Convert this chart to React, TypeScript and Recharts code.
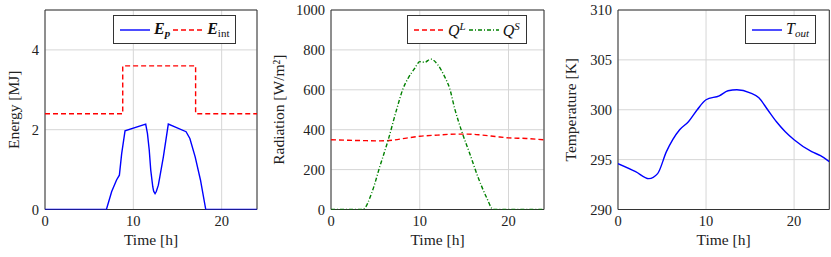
import React from 'react';
import { LineChart, Line, XAxis, YAxis, CartesianGrid, Legend, ReferenceArea } from 'recharts';

const FONT = '"Liberation Serif", "Times New Roman", serif';

// shared time axis
const hourTicks = [0, 10, 20];

// panel 1: energy [MJ]
const epHours = [0, 6.95, 7.55, 8.1, 8.42, 8.68, 9.06, 11.4, 11.6, 11.8, 11.97, 12.2, 12.3, 12.46, 12.6, 12.83, 13.0, 13.4, 13.96, 15.97, 16.4, 17.0, 17.6, 18.2, 24];
const epValues = [0, 0, 0.45, 0.74, 0.86, 1.4, 1.97, 2.14, 1.9, 1.49, 0.99, 0.57, 0.46, 0.4, 0.45, 0.61, 0.82, 1.32, 2.14, 1.95, 1.78, 1.32, 0.74, 0, 0];
const eintHours = [0, 8.8, 17.05, 24];
const eintValues = [2.4, 3.6, 2.4, 2.4];
const energyTicks = [0, 2, 4];

// panel 2: radiation [W/m2]
const qlHours = [0, 2, 4, 5.5, 7, 8.5, 10, 12, 14, 15.4, 17, 18.5, 20, 22, 24];
const qlValues = [350, 347, 345, 344, 348, 358, 367, 373, 378, 378, 373, 366, 359, 356, 349];
const qsHours = [0, 3.6, 4.57, 5.5, 6.44, 7.38, 8.13, 8.69, 9.44, 10.0, 10.56, 11.24, 12.06, 12.8, 13.37, 13.93, 14.68, 15.62, 16.55, 17.49, 18.3, 24];
const qsValues = [0, 0, 81, 215, 348, 499, 607, 658, 708, 741, 738, 754, 724, 666, 607, 507, 398, 282, 164, 64, 0, 0];
const radiationTicks = [0, 200, 400, 600, 800, 1000];

// panel 3: outside temperature [K]
const toutHours = [0, 2, 3.5, 4.5, 5.5, 7, 8, 9, 10, 11.5, 12.5, 13.5, 15, 16, 17, 18, 19, 20, 22, 23, 24];
const toutValues = [294.6, 293.8, 293.1, 293.6, 295.8, 298.0, 298.8, 300.0, 301.0, 301.4, 301.9, 302.0, 301.7, 301.2, 300.0, 298.8, 297.8, 297.0, 295.8, 295.4, 294.8];
const tempTicks = [290, 295, 300, 305, 310];

const toPoints = (hours: number[], values: number[]) => hours.map((h, i) => ({ h, v: values[i] }));

// tick labels as plain svg text so the serif font is applied for sure
const XTick = (props: any) => (
  <text x={props.x} y={props.y} dy="0.71em" textAnchor="middle" fontFamily={FONT} fontSize={14.5} fill="#222">
    {props.payload.value}
  </text>
);

const YTick = (props: any) => (
  <text x={props.x} y={props.y} dy="0.355em" textAnchor="end" fontFamily={FONT} fontSize={14.5} fill="#222">
    {props.payload.value}
  </text>
);

// axis titles drawn relative to the axis viewBox
const xTitle = (text: string) => (props: any) => {
  const vb = props.viewBox;
  return (
    <text x={vb.x + vb.width / 2} y={vb.y + 35.5} textAnchor="middle" fontFamily={FONT} fontSize={15.5} fill="#222">
      {text}
    </text>
  );
};

const yTitle = (text: string, dx: number) => (props: any) => {
  const vb = props.viewBox;
  const x = vb.x + vb.width - dx;
  const y = vb.y + vb.height / 2;
  return (
    <text x={x} y={y} transform={`rotate(-90 ${x} ${y})`} textAnchor="middle" dominantBaseline="central" fontFamily={FONT} fontSize={15.5} fill="#222">
      {text}
    </text>
  );
};

const Sample = ({ color, dash }: { color: string; dash?: string }) => (
  <svg width={30} height={6} style={{ display: 'block' }}>
    <line x1={0} y1={3} x2={30} y2={3} stroke={color} strokeWidth={1.4} strokeDasharray={dash} />
  </svg>
);

const legendBox = (items: { color: string; dash?: string; label: React.ReactNode }[]) => () => (
  <div
    style={{
      display: 'flex',
      alignItems: 'center',
      border: '1px solid #333',
      background: '#fff',
      height: 27,
      padding: '0 6px',
      fontFamily: FONT,
      fontSize: 16,
      color: '#111',
      whiteSpace: 'nowrap',
    }}
  >
    {items.map((it, i) => (
      <div key={i} style={{ display: 'flex', alignItems: 'center', marginLeft: i ? 3 : 0 }}>
        <Sample color={it.color} dash={it.dash} />
        <span style={{ marginLeft: 4 }}>{it.label}</span>
      </div>
    ))}
  </div>
);

const subStyle = { fontSize: 11, verticalAlign: '-3px' } as const;
const supStyle = { fontSize: 11, verticalAlign: '6px' } as const;

interface PanelProps {
  left: number;
  width: number;
  marginLeft: number;
  marginRight: number;
  yWidth: number;
  yDomain: [number, number];
  yTicks: number[];
  yLabel: string;
  yLabelDx: number;
  legendLeft: number;
  legend: () => React.ReactElement;
  children: React.ReactNode;
}

const Panel = ({ left, width, marginLeft, marginRight, yWidth, yDomain, yTicks, yLabel, yLabelDx, legendLeft, legend, children }: PanelProps) => (
  <div style={{ position: 'absolute', left, top: 0, fontFamily: FONT }}>
    <LineChart width={width} height={257} margin={{ top: 10, right: marginRight, bottom: 17.5, left: marginLeft }}>
      <CartesianGrid stroke="#d6d6d6" strokeWidth={1} />
      <XAxis
        dataKey="h"
        type="number"
        domain={[0, 24]}
        ticks={hourTicks}
        allowDataOverflow
        height={30}
        axisLine={false}
        tickLine={false}
        tickSize={0}
        tickMargin={6}
        tick={XTick}
        label={{ content: xTitle('Time [h]') }}
      />
      <YAxis
        type="number"
        domain={yDomain}
        ticks={yTicks}
        allowDataOverflow
        width={yWidth}
        axisLine={false}
        tickLine={false}
        tickSize={0}
        tickMargin={6}
        tick={YTick}
        label={{ content: yTitle(yLabel, yLabelDx) }}
      />
      <Legend
        layout="horizontal"
        verticalAlign="middle"
        align="center"
        content={legend}
        wrapperStyle={{ left: legendLeft, top: 15, width: 'auto', right: 'auto', bottom: 'auto', height: 'auto' }}
      />
      {children}
      {/* plot frame */}
      <ReferenceArea x1={0} x2={24} y1={yDomain[0]} y2={yDomain[1]} fill="none" fillOpacity={0} stroke="#333" strokeWidth={1} ifOverflow="visible" />
    </LineChart>
  </div>
);

export default function App() {
  return (
    <div style={{ position: 'absolute', left: 0, top: 0, width: 831, height: 257, background: '#fff', fontFamily: FONT }}>
      <Panel
        left={0}
        width={270}
        marginLeft={15}
        marginRight={13}
        yWidth={30}
        yDomain={[0, 5]}
        yTicks={energyTicks}
        yLabel="Energy [MJ]"
        yLabelDx={32}
        legendLeft={113}
        legend={legendBox([
          {
            color: '#0000ff',
            label: (
              <span>
                <b><i>E</i></b>
                <b><i style={subStyle}>p</i></b>
              </span>
            ),
          },
          {
            color: '#ff0000',
            dash: '5 3',
            label: (
              <span>
                <b><i>E</i></b>
                <span style={subStyle}>int</span>
              </span>
            ),
          },
        ])}
      >
        <Line data={toPoints(epHours, epValues)} dataKey="v" name="Ep" type="linear" stroke="#0000ff" strokeWidth={1.4} dot={false} isAnimationActive={false} />
        <Line data={toPoints(eintHours, eintValues)} dataKey="v" name="Eint" type="stepAfter" stroke="#ff0000" strokeWidth={1.4} strokeDasharray="5 3" dot={false} isAnimationActive={false} />
      </Panel>
      <Panel
        left={270}
        width={280}
        marginLeft={21}
        marginRight={6}
        yWidth={40}
        yDomain={[0, 1000]}
        yTicks={radiationTicks}
        yLabel="Radiation [W/m²]"
        yLabelDx={53}
        legendLeft={137}
        legend={legendBox([
          {
            color: '#ff0000',
            dash: '5 3',
            label: (
              <span>
                <i>Q</i>
                <i style={supStyle}>L</i>
              </span>
            ),
          },
          {
            color: '#008000',
            dash: '4 2 1 2',
            label: (
              <span>
                <i>Q</i>
                <i style={supStyle}>S</i>
              </span>
            ),
          },
        ])}
      >
        <Line data={toPoints(qlHours, qlValues)} dataKey="v" name="QL" type="monotone" stroke="#ff0000" strokeWidth={1.4} strokeDasharray="5 3" dot={false} isAnimationActive={false} />
        <Line data={toPoints(qsHours, qsValues)} dataKey="v" name="QS" type="monotone" stroke="#008000" strokeWidth={1.4} strokeDasharray="4 2 1 2" dot={false} isAnimationActive={false} />
      </Panel>
      <Panel
        left={550}
        width={281}
        marginLeft={28}
        marginRight={1.7}
        yWidth={40}
        yDomain={[290, 310]}
        yTicks={tempTicks}
        yLabel="Temperature [K]"
        yLabelDx={47.3}
        legendLeft={195}
        legend={legendBox([
          {
            color: '#0000ff',
            label: (
              <span>
                <i>T</i>
                <i style={subStyle}>out</i>
              </span>
            ),
          },
        ])}
      >
        <Line data={toPoints(toutHours, toutValues)} dataKey="v" name="Tout" type="monotone" stroke="#0000ff" strokeWidth={1.4} dot={false} isAnimationActive={false} />
      </Panel>
    </div>
  );
}
